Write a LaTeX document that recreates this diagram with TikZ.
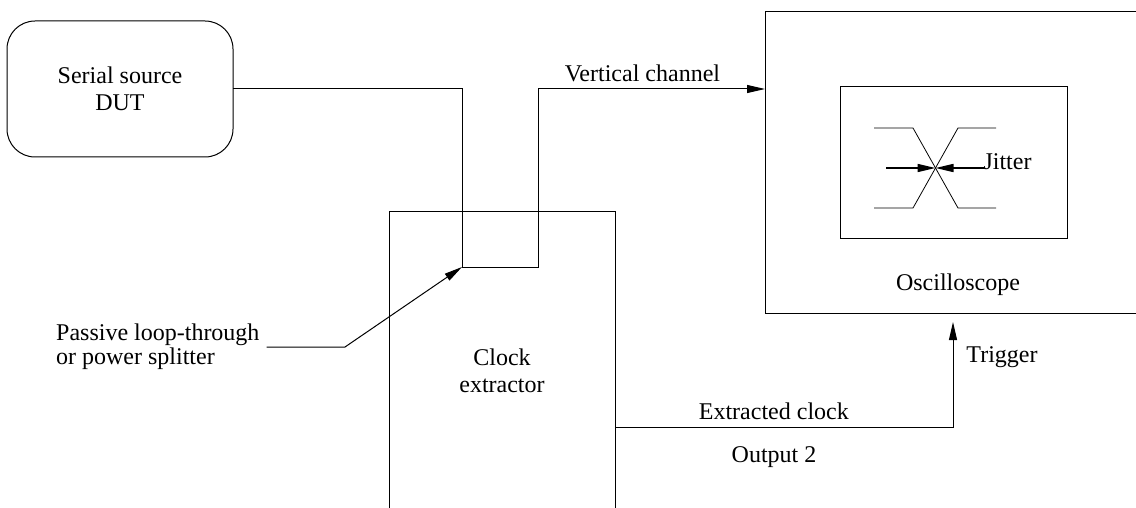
\documentclass[tikz,border=0pt]{standalone}
\usepackage{fontspec}
\setmainfont{Liberation Serif}
\newfontfamily\tmsfont{Liberation Serif}
\usetikzlibrary{positioning,calc,arrows.meta}

\begin{document}
\begin{tikzpicture}[x=0.5pt, y=-0.5pt, line width=0.5pt,
		font=\tmsfont\fontsize{12}{13.5}\selectfont,
		box/.style={draw, inner sep=0pt, outer sep=0pt},
		arr/.style={-{Triangle[length=9pt,width=4pt]}},
		trace/.style={line width=0.4pt}]
			\useasboundingbox (0,0) rectangle (1136,508);
			% blocks
			\node [box, rounded corners=14pt, minimum width=113pt, minimum height=68pt, align=center] (src) at (120,89) {Serial source\\DUT};
			\node [box, minimum width=113pt, minimum height=159pt, align=center] (clk) at (502,371) {Clock\\extractor};
			\node [box, minimum width=197.5pt, minimum height=150.5pt] (scope) at (962.5,162.5) {};
			\node [box, minimum width=113.5pt, minimum height=75.5pt] (screen) at (953.5,162.5) {};
			\node (scopelbl) at (958,285) {Oscilloscope};
			% loop-through
			\coordinate (lpA) at (462,89);
			\coordinate (lpB) at (462,267);
			\coordinate (lpC) at (538,267);
			\coordinate (lpD) at (538,89);
			\draw (src.east |- lpA) -- (lpA) -- (lpB) -- (lpC) -- (lpD);
			\draw [arr] (lpD) -- (lpD -| scope.west) node [above, pos=0.46] {Vertical channel};
			\node [anchor=west, align=left, font=\tmsfont\fontsize{12}{9.5}\selectfont] (pas) at (49,347) {Passive loop-through\\or power splitter};
			\coordinate (pasB) at (345,347);
			\draw [arr] (pas.east) -- (pasB) -- (lpB);
			% clock out
			\coordinate (ecA) at (615,427);
			\coordinate (ecB) at (953,427);
			\coordinate (trg) at (953,322);
			\draw [arr] (ecA) -- (ecB) node [above, pos=0.47] {Extracted clock} -- (trg);
			\node (outlbl) at (774,457) {Output 2};
			\node (trglbl) at (1002,357) {Trigger};
			% eye
			\draw [trace] (874,128) -- (913,128) -- (958,208) -- (996,208);
			\draw [trace] (874,208) -- (913,208) -- (958,128) -- (996,128);
			\coordinate (jx) at (935.5,168);
			\draw [arr, line width=0.8pt] (886,168) -- (jx);
			\draw [arr, line width=0.8pt] (984,168) -- (jx);
			\node [anchor=west, inner sep=0pt] (jit) at (983,162) {Jitter};
		\end{tikzpicture}
\end{document}
